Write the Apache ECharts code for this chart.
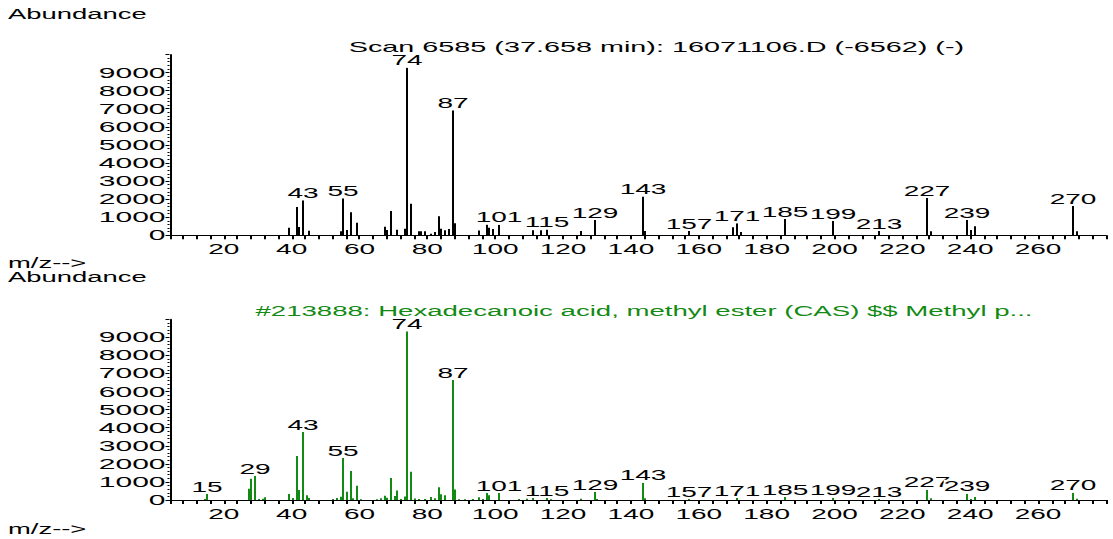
<!DOCTYPE html>
<html>
<head>
<meta charset="utf-8">
<script src="https://cdn.jsdelivr.net/npm/echarts@6/dist/echarts.min.js"></script>
<style>
html, body { margin: 0; padding: 0; background: #fff; overflow: hidden; }
#main { width: 556.5px; height: 539px; transform: scaleX(2); transform-origin: 0 0; }
</style>
</head>
<body>
<div id="main"></div>
<script>
// sample scan (top)
var topMz = [39,41,42,43,45,54,55,56,57,59,67,68,69,71,73,74,75,77,78,79,81,82,83,84,85,86,87,88,95,97,98,99,101,111,113,115,125,129,143,144,157,170,171,172,185,199,213,227,228,239,240,241,270,271];
var topAb = [424,1567,461,1936,258,221,2046,295,1272,700,479,295,1346,313,369,9273,1751,221,221,221,92,184,1051,369,277,350,6914,664,270,609,424,350,590,277,277,314,240,849,2140,240,240,443,664,184,904,793,240,2066,221,849,295,498,1624,221];
var topLabels = [43,55,74,87,101,115,129,143,157,171,185,199,213,227,239,270];

// library hit (bottom)
var libMz = [14,15,27,28,29,30,31,32,39,40,41,42,43,44,45,52,53,54,55,56,57,58,59,60,65,66,67,68,69,70,71,72,73,74,75,76,77,79,81,82,83,84,85,87,88,89,91,93,95,96,97,98,101,107,109,111,115,116,125,129,130,143,144,157,171,185,199,213,227,228,239,240,241,270,271];
var libAb = [55,340,627,1181,1335,55,74,148,332,111,2435,553,3764,265,111,55,111,175,2330,450,1605,100,793,46,40,100,240,129,1218,221,525,55,195,9330,1558,83,55,55,166,92,710,323,258,6642,580,46,37,55,147,55,387,265,387,55,74,111,111,37,74,442,55,959,92,55,111,166,129,55,571,92,350,55,166,405,74];
var libLabels = [15,29,43,55,74,87,101,115,129,143,157,171,185,199,213,227,239,270];

var xTickLabels = [20,40,60,80,100,120,140,160,180,200,220,240,260];
var yTickLabels = [0,1000,2000,3000,4000,5000,6000,7000,8000,9000];

var topTitle = 'Scan 6585 (37.658 min): 16071106.D (-6562) (-)';
var libTitle = '#213888: Hexadecanoic acid, methyl ester (CAS) $$ Methyl p...';

var FONT = '"Liberation Sans", Arial, sans-serif';
var GREEN = '#138a13';

function pairs(mz, ab) {
	var out = [];
	for (var i = 0; i < mz.length; i++) out.push([mz[i], ab[i]]);
	return out;
}

function stickRenderer(color, labels) {
	return function(params, api) {
		var mz = api.value(0);
		var ab = api.value(1);
		var p0 = api.coord([mz, 0]);
		var p1 = api.coord([mz, ab]);
		var x = Math.round(p0[0]) + 0.5;
		var children = [{
			type: 'line',
			shape: { x1: x, y1: p0[1], x2: x, y2: p1[1] },
			style: { stroke: color, lineWidth: 1 }
		}];
		if (labels.indexOf(mz) >= 0) {
			children.push({
				type: 'text',
				x: x,
				y: p1[1],
				style: {
					text: String(mz),
					fill: '#000',
					font: '14px ' + FONT,
					align: 'center',
					verticalAlign: 'bottom',
					backgroundColor: '#fff'
				}
			});
		}
		return { type: 'group', children: children };
	};
}

function xAxisFor(gi) {
	return {
		gridIndex: gi,
		type: 'value',
		min: 4,
		max: 280,
		interval: 4,
		axisLine: { onZero: false, lineStyle: { color: '#000', width: 1 } },
		axisTick: { length: 4, lineStyle: { color: '#000' } },
		splitLine: { show: false },
		axisLabel: {
			color: '#000', fontSize: 14, fontFamily: FONT, margin: 7,
			formatter: function(v) { return xTickLabels.indexOf(v) >= 0 ? String(v) : ''; }
		}
	};
}

function yAxisFor(gi) {
	return {
		gridIndex: gi,
		type: 'value',
		min: 0,
		max: 10000,
		interval: 1000,
		axisLine: { show: true, lineStyle: { color: '#000', width: 1 } },
		axisTick: { show: true, length: 2, lineStyle: { color: '#000' } },
		minorTick: { show: true, splitNumber: 5, length: 1, lineStyle: { color: '#000' } },
		splitLine: { show: false },
		minorSplitLine: { show: false },
		axisLabel: {
			color: '#000', fontSize: 15, fontFamily: FONT, margin: 2,
			formatter: function(v) { return yTickLabels.indexOf(v) >= 0 ? String(v) : ''; }
		}
	};
}

var chart = echarts.init(document.getElementById('main'), null, { renderer: 'svg' });

var option = {
	animation: false,
	backgroundColor: '#fff',
	textStyle: { fontFamily: FONT },
	grid: [
		{ left: 84.75, top: 54.5, width: 468.2, height: 180.8 },
		{ left: 84.75, top: 319.2, width: 468.2, height: 180.8 }
	],
	xAxis: [xAxisFor(0), xAxisFor(1)],
	yAxis: [yAxisFor(0), yAxisFor(1)],
	graphic: [
		{ type: 'text', x: 4, y: 14, style: { text: 'Abundance', font: '13.7px ' + FONT, fill: '#000', verticalAlign: 'middle' } },
		{ type: 'text', x: 328.2, y: 46.5, style: { text: topTitle, font: '14.4px ' + FONT, fill: '#000', align: 'center', verticalAlign: 'middle' } },
		{ type: 'text', x: 4, y: 263, style: { text: 'm/z-->', font: '13.7px ' + FONT, fill: '#000', verticalAlign: 'middle' } },
		{ type: 'text', x: 4, y: 277.5, style: { text: 'Abundance', font: '13.7px ' + FONT, fill: '#000', verticalAlign: 'middle' } },
		{ type: 'text', x: 322, y: 311, style: { text: libTitle, font: '13.8px ' + FONT, fill: GREEN, align: 'center', verticalAlign: 'middle' } },
		{ type: 'text', x: 4, y: 529, style: { text: 'm/z-->', font: '13.7px ' + FONT, fill: '#000', verticalAlign: 'middle' } }
	],
	series: [
		{
			type: 'custom',
			xAxisIndex: 0,
			yAxisIndex: 0,
			data: pairs(topMz, topAb),
			encode: { x: 0, y: 1 },
			renderItem: stickRenderer('#000', topLabels)
		},
		{
			type: 'custom',
			xAxisIndex: 1,
			yAxisIndex: 1,
			data: pairs(libMz, libAb),
			encode: { x: 0, y: 1 },
			renderItem: stickRenderer(GREEN, libLabels)
		}
	]
};

chart.setOption(option);
</script>
</body>
</html>
